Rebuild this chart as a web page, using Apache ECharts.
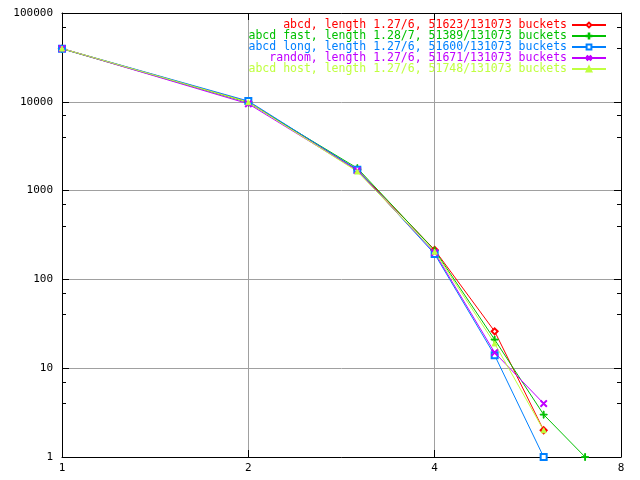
<!DOCTYPE html>
<html>
<head>
<meta charset="utf-8">
<script src="https://cdn.jsdelivr.net/npm/echarts@6/dist/echarts.min.js"></script>
<style>html,body{margin:0;padding:0;background:#fff}#c{width:640px;height:480px}</style>
</head>
<body>
<div id="c"></div>
<script>
var chainLengths = [1, 2, 3, 4, 5, 6, 7];
var seriesNames = [
  "abcd, length 1.27/6, 51623/131073 buckets",
  "abcd fast, length 1.28/7, 51389/131073 buckets",
  "abcd long, length 1.27/6, 51600/131073 buckets",
  "random, length 1.27/6, 51671/131073 buckets",
  "abcd host, length 1.27/6, 51748/131073 buckets"
];
var abcdCounts   = [39700, 10000, 1720, 215, 26, 2];
var fastCounts   = [39500, 9800, 1790, 212, 21, 3, 1];
var longCounts   = [39700, 10200, 1720, 193, 14, 1];
var randomCounts = [39800, 9500, 1680, 200, 15, 4];
var hostCounts   = [39800, 9900, 1640, 205, 19, 2];
var xTickLabels = ["1", "2", "4", "8"];
var yTickLabels = ["1", "10", "100", "1000", "10000", "100000"];

var colors = ["#ff0000", "#00c000", "#0080ff", "#c000ff", "#c0ff40"];
var plusPath = "path://M0,4.4L10,4.4L10,5.6L0,5.6ZM4.4,0L5.6,0L5.6,10L4.4,10Z";
var symbols = ["emptyDiamond", plusPath, "emptyRect", plusPath, "triangle"];
var rotates = [0, 0, 0, 45, 0];
var sizes = [6, 7, 6, 8, 5];
var allCounts = [abcdCounts, fastCounts, longCounts, randomCounts, hostCounts];

function pairs(vals) {
  return vals.map(function (v, i) { return [chainLengths[i], v]; });
}
var maxLen = Math.max.apply(null, seriesNames.map(function (s) { return s.length; }));
var font = "'DejaVu Sans Mono', 'Liberation Mono', monospace";

var series = allCounts.map(function (vals, i) {
  return {
    name: seriesNames[i],
    type: "line",
    data: pairs(vals),
    xAxisIndex: 0,
    yAxisIndex: 0,
    symbol: symbols[i],
    symbolSize: sizes[i],
    symbolRotate: rotates[i],
    showAllSymbol: true,
    lineStyle: { color: colors[i], width: 1 },
    itemStyle: { color: colors[i], borderColor: colors[i], borderWidth: 1 },
    emphasis: { disabled: true },
    animation: false
  };
});

var legendData = seriesNames.map(function (n, i) {
  return { name: n, textStyle: { color: colors[i] } };
});

var chart = echarts.init(document.getElementById("c"), null, { renderer: "canvas" });
chart.setOption({
  backgroundColor: "#ffffff",
  animation: false,
  color: colors,
  grid: { left: 62, right: 19, top: 13, bottom: 23, containLabel: false },
  legend: {
    orient: "vertical",
    right: 33,
    top: 19,
    padding: 0,
    align: "right",
    itemWidth: 34,
    itemHeight: 6,
    itemGap: -1,
    selectedMode: false,
    textStyle: { fontFamily: font, fontSize: 11.5, lineHeight: 10, height: 10, padding: 0 },
    formatter: function (name) {
      var pad = "";
      while (pad.length + name.length < maxLen) pad += " ";
      return pad + name;
    },
    data: legendData
  },
  xAxis: [{
    type: "log", logBase: 2, min: 1, max: 8, position: "bottom",
    axisLine: { show: true, lineStyle: { color: "#000", width: 1 } },
    axisTick: { show: true, inside: true, length: 7, lineStyle: { color: "#000" } },
    axisLabel: { show: true, color: "#000", fontFamily: font, fontSize: 11, margin: 6,
      formatter: function (v) { var s = String(Math.round(v)); return xTickLabels.indexOf(s) >= 0 ? s : ""; } },
    splitLine: { show: true, lineStyle: { color: "#a0a0a0", width: 1 } },
    minorTick: { show: false }
  }, {
    type: "log", logBase: 2, min: 1, max: 8, position: "top",
    axisLine: { show: true, lineStyle: { color: "#000", width: 1 } },
    axisTick: { show: true, inside: true, length: 7, lineStyle: { color: "#000" } },
    axisLabel: { show: false },
    splitLine: { show: false }
  }],
  yAxis: [{
    type: "log", logBase: 10, min: 1, max: 100000, position: "left",
    axisLine: { show: true, lineStyle: { color: "#000", width: 1 } },
    axisTick: { show: true, inside: true, length: 7, lineStyle: { color: "#000" } },
    minorTick: { show: true, splitNumber: 3, length: 4, lineStyle: { color: "#000" } },
    axisLabel: { show: true, color: "#000", fontFamily: font, fontSize: 11, margin: 9,
      formatter: function (v) { var s = String(Math.round(v)); return yTickLabels.indexOf(s) >= 0 ? s : ""; } },
    splitLine: { show: true, lineStyle: { color: "#a0a0a0", width: 1 } }
  }, {
    type: "log", logBase: 10, min: 1, max: 100000, position: "right",
    axisLine: { show: true, lineStyle: { color: "#000", width: 1 } },
    axisTick: { show: true, inside: true, length: 7, lineStyle: { color: "#000" } },
    minorTick: { show: true, splitNumber: 3, length: 4, lineStyle: { color: "#000" } },
    axisLabel: { show: false },
    splitLine: { show: false }
  }],
  series: series
});
</script>
</body>
</html>
